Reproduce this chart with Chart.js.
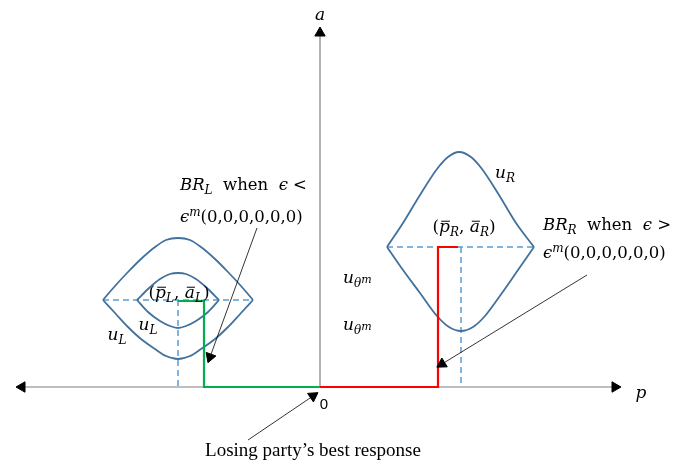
<!DOCTYPE html>
<html>
<head>
<meta charset="utf-8">
<script src="https://cdn.jsdelivr.net/npm/chart.js@4.4.1/dist/chart.umd.min.js"></script>
<style>
  html, body { margin: 0; padding: 0; background: #fff; }
  #wrap { width: 682px; height: 466px; }
</style>
</head>
<body>
<div id="wrap"><canvas id="chart"></canvas></div>
<script>
// all points are [p, a]; the last point of an arrow carries its head
const pAxis = [[-298, 0], [295, 0]];
const aAxis = [[0, 0], [0, 354]];
const arrowBRL = [[-63, 159], [-110, 30]];
const arrowBRR = [[267, 112], [122, 23]];
const arrowLosing = [[-72, -53], [-7, -9]];

// indifference curves of the left party (outer and inner lens)
const uLOuterTop = [[-217, 87], [-205, 101], [-192, 115], [-179, 128], [-165, 140], [-154, 147], [-142, 149], [-130, 147], [-119, 140], [-105, 128], [-92, 115], [-79, 101], [-67, 87]];
const uLOuterBottom = [[-217, 87], [-205, 74], [-192, 60], [-179, 48], [-165, 38], [-154, 31], [-142, 28], [-130, 31], [-119, 38], [-105, 48], [-92, 60], [-79, 74], [-67, 87]];
const uLInnerTop = [[-183, 87], [-172, 98], [-160, 108], [-150, 113], [-142, 114], [-134, 113], [-124, 108], [-112, 98], [-101, 87]];
const uLInnerBottom = [[-183, 87], [-172, 75], [-160, 66], [-150, 61], [-142, 59], [-134, 61], [-124, 66], [-112, 75], [-101, 87]];

// indifference curve of the right party
const uRTop = [[67, 140], [83, 164], [100, 192], [117, 218], [128, 230], [139, 235], [151, 230], [162, 218], [179, 192], [196, 164], [214, 140]];
const uRBottom = [[67, 140], [83, 117], [100, 94], [117, 71], [129, 60], [141, 56], [153, 60], [165, 71], [182, 94], [198, 117], [214, 140]];

// ideal points (p bar, a bar) with guide lines
const guideLH = [[-217, 87], [-67, 87]];
const guideLV = [[-142, 87], [-142, 0]];
const guideRH = [[67, 140], [214, 140]];
const guideRV = [[141, 140], [141, 0]];

// best responses
const brL = [[-142, 86], [-116, 86], [-116, 0], [0, 0]];
const brR = [[0, 0], [118, 0], [118, 140], [138, 140]];

const CURVE = '#41719C';
const GUIDE = '#5B9BD5';
const MATH = '"DejaVu Serif", "Liberation Serif", serif';
const TEXT = '"Liberation Serif", "DejaVu Serif", serif';
const SANS = '"Liberation Sans", "DejaVu Sans", sans-serif';

function headAngle(pts, i) {
  const j = i === 0 ? 1 : i - 1;
  const dp = pts[i][0] - pts[j][0];
  const da = pts[i][1] - pts[j][1];
  return Math.atan2(dp, da) * 180 / Math.PI;
}

function line(pts, color, width, extra) {
  return Object.assign({
    data: pts.map(([x, y]) => ({ x, y })),
    borderColor: color,
    borderWidth: width,
    pointRadius: 0,
    tension: 0,
    fill: false
  }, extra || {});
}

function curve(pts) {
  return line(pts, CURVE, 1.8, { cubicInterpolationMode: 'monotone' });
}

function arrow(pts, color, width, heads, size) {
  return line(pts, color, width, {
    pointStyle: 'triangle',
    pointRadius: ctx => heads.includes(ctx.dataIndex) ? size : 0,
    pointRotation: ctx => headAngle(pts, ctx.dataIndex),
    pointBackgroundColor: '#000',
    pointBorderColor: '#000',
    pointBorderWidth: 1
  });
}

// text labels: [text, kind] runs
const notes = [
  { p: 0, a: 372, align: 'center', parts: [['a', 'i']] },
  { p: 321, a: -6, align: 'center', parts: [['p', 'i']] },
  { p: 4, a: -17, align: 'center', size: 15, parts: [['0', 'sans']] },
  { p: -7, a: -63, align: 'center', size: 19, parts: [['Losing party\u2019s best response', 'text']] },
  { p: -140, a: 202, size: 16.5, parts: [['BR', 'i'], ['L', 'sub'], ['  when  ', 'r'], ['\u03f5', 'i'], [' <', 'r']] },
  { p: -140, a: 170, size: 16.5, parts: [['\u03f5', 'i'], ['m', 'sup'], ['(0,0,0,0,0,0)', 'r']] },
  { p: -141, a: 94, align: 'center', parts: [['(', 'r'], ['p', 'bar'], ['L', 'sub'], [', ', 'r'], ['a', 'bar'], ['L', 'sub'], [')', 'r']] },
  { p: -172, a: 62, align: 'center', parts: [['u', 'i'], ['L', 'sub']] },
  { p: -203, a: 52, align: 'center', parts: [['u', 'i'], ['L', 'sub']] },
  { p: 23, a: 109, parts: [['u', 'i'], ['\u03b8', 'sub'], ['m', 'subsup']] },
  { p: 23, a: 62, parts: [['u', 'i'], ['\u03b8', 'sub'], ['m', 'subsup']] },
  { p: 185, a: 214, align: 'center', parts: [['u', 'i'], ['R', 'sub']] },
  { p: 144, a: 160, align: 'center', parts: [['(', 'r'], ['p', 'bar'], ['R', 'sub'], [', ', 'r'], ['a', 'bar'], ['R', 'sub'], [')', 'r']] },
  { p: 223, a: 162, size: 16.5, parts: [['BR', 'i'], ['R', 'sub'], ['  when  ', 'r'], ['\u03f5', 'i'], [' >', 'r']] },
  { p: 223, a: 134, size: 16.5, parts: [['\u03f5', 'i'], ['m', 'sup'], ['(0,0,0,0,0,0)', 'r']] }
];

const notesPlugin = {
  id: 'notes',
  afterDatasetsDraw(chart) {
    const { ctx, scales: { x, y } } = chart;
    ctx.save();
    ctx.fillStyle = '#000';
    ctx.strokeStyle = '#000';
    ctx.textBaseline = 'alphabetic';
    notes.forEach(n => {
      const size = n.size || 17;
      const fontFor = k => {
        if (k === 'sans') return `${size}px ${SANS}`;
        if (k === 'text') return `${size}px ${TEXT}`;
        if (k === 'r') return `${size}px ${MATH}`;
        if (k === 'sub' || k === 'sup') return `italic ${Math.round(size * 0.72)}px ${MATH}`;
        if (k === 'subsup') return `italic ${Math.round(size * 0.62)}px ${MATH}`;
        return `italic ${size}px ${MATH}`;
      };
      let total = 0;
      const runs = n.parts.map(([t, k]) => {
        ctx.font = fontFor(k);
        const w = ctx.measureText(t).width;
        total += w;
        return [t, k, w];
      });
      let cx = x.getPixelForValue(n.p) - (n.align === 'center' ? total / 2 : 0);
      const base = y.getPixelForValue(n.a) + size * 0.32;
      runs.forEach(([t, k, w]) => {
        ctx.font = fontFor(k);
        let dy = 0;
        if (k === 'sub') dy = size * 0.22;
        if (k === 'sup') dy = -size * 0.38;
        if (k === 'subsup') dy = -size * 0.04;
        ctx.fillText(t, cx, base + dy);
        if (k === 'bar') {
          ctx.lineWidth = 1;
          ctx.beginPath();
          ctx.moveTo(cx + w * 0.2, base - size * 0.66);
          ctx.lineTo(cx + w * 1.0, base - size * 0.66);
          ctx.stroke();
        }
        cx += w;
      });
    });
    ctx.restore();
  }
};

// first dataset is drawn on top
const datasets = [
  arrow(arrowBRL, '#000', 0.8, [1], 6),
  arrow(arrowBRR, '#000', 0.8, [1], 6),
  arrow(arrowLosing, '#000', 0.8, [1], 6),
  line(brL, '#00B050', 2.2),
  line(brR, '#FF0000', 2.2),
  curve(uLOuterTop),
  curve(uLOuterBottom),
  curve(uLInnerTop),
  curve(uLInnerBottom),
  curve(uRTop),
  curve(uRBottom),
  line(guideLH, GUIDE, 1.5, { borderDash: [6, 4] }),
  line(guideLV, GUIDE, 1.5, { borderDash: [6, 4] }),
  line(guideRH, GUIDE, 1.5, { borderDash: [6, 4] }),
  line(guideRV, GUIDE, 1.5, { borderDash: [6, 4] }),
  arrow(pAxis, '#7F7F7F', 1.2, [0, 1], 6),
  arrow(aAxis, '#7F7F7F', 1.2, [1], 6)
];

new Chart(document.getElementById('chart'), {
  type: 'line',
  data: { datasets },
  options: {
    responsive: true,
    maintainAspectRatio: false,
    animation: false,
    events: [],
    layout: { padding: 0, autoPadding: false },
    scales: {
      x: { type: 'linear', min: -320, max: 362, display: false },
      y: { type: 'linear', min: -79, max: 387, display: false }
    },
    plugins: {
      legend: { display: false },
      tooltip: { enabled: false }
    }
  },
  plugins: [notesPlugin]
});
</script>
</body>
</html>
